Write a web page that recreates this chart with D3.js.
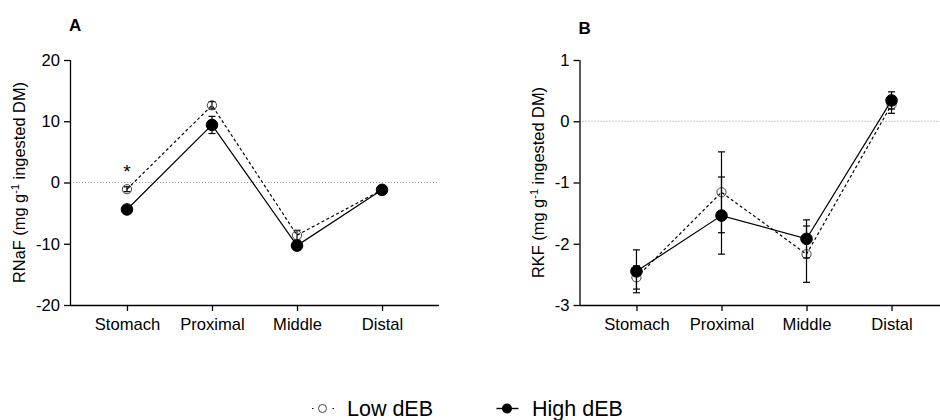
<!DOCTYPE html>
<html>
<head>
<meta charset="utf-8">
<script src="https://cdn.jsdelivr.net/npm/d3@7"></script>
<style>
  body { margin: 0; background: #fff; }
  text { font-family: Arial, "Liberation Sans", sans-serif; fill: #000; }
</style>
</head>
<body>
<div id="chart-area"></div>
<script>
// data (mean and SE per segment)
let categories = ["Stomach", "Proximal", "Middle", "Distal"];

let rnafLow = [-1.1, 12.6, -8.6, -1.2];
let rnafLowSE = [0.4, 0.6, 0.8, 0.3];
let rnafHigh = [-4.4, 9.4, -10.3, -1.2];
let rnafHighSE = [0.5, 1.4, 0.7, 0.3];

let rkfLow = [-2.55, -1.16, -2.17, 0.27];
let rkfLowSE = [0.19, 0.66, 0.46, 0.14];
let rkfHigh = [-2.45, -1.54, -1.92, 0.34];
let rkfHighSE = [0.35, 0.63, 0.31, 0.14];

let rnafTicks = [-20, -10, 0, 10, 20];
let rkfTicks = [-3, -2, -1, 0, 1];

let seriesNames = ["Low dEB", "High dEB"];

let width = 940,
  height = 420;

let svg = d3
  .select("#chart-area")
  .append("svg")
  .attr("width", width)
  .attr("height", height);

// one panel = one little line chart with error bars
function renderPanel(opts) {
  let x = d3
    .scalePoint()
    .domain(categories)
    .range([opts.left, opts.left + 369])
    .padding(0.67);

  let y = d3.scaleLinear().domain(opts.domain).range([305, 60]);

  let g = svg.append("g");

  // zero reference line
  g.append("line")
    .attr("x1", opts.left)
    .attr("x2", opts.left + 369)
    .attr("y1", y(0))
    .attr("y2", y(0))
    .attr("stroke", "#9a9a9a")
    .attr("stroke-width", 1)
    .attr("stroke-dasharray", "1,2");

  // ---- AXES ----
  let yAxis = d3
    .axisLeft(y)
    .tickValues(opts.ticks)
    .tickFormat((d) => String(d))
    .tickSize(6)
    .tickPadding(4);

  let yAxisGroup = g
    .append("g")
    .attr("transform", "translate(" + opts.left + ",0)")
    .call(yAxis);

  let xAxis = d3.axisBottom(x).tickSize(6).tickPadding(7);

  let xAxisGroup = g
    .append("g")
    .attr("transform", "translate(0,305)")
    .call(xAxis);

  [yAxisGroup, xAxisGroup].forEach((ax) => {
    ax.selectAll("path,line").attr("stroke", "#000").attr("stroke-width", 1.3);
    ax.selectAll("text").style("font-size", "16.6px").attr("fill", "#000");
  });
  xAxisGroup.select(".domain").attr("d", "M" + opts.left + ",0.5H" + (opts.left + 369));
  yAxisGroup.select(".domain").attr("d", "M0.5,305V60");

  // y axis title with superscript
  let title = g
    .append("text")
    .attr("transform", "translate(" + opts.labelX + "," + (305 + 60) / 2 + ") rotate(-90)")
    .attr("text-anchor", "middle")
    .style("font-size", "16.4px");
  title.append("tspan").text(opts.label + " (mg g");
  title.append("tspan").attr("dy", -6).style("font-size", "11px").text("-1");
  title.append("tspan").attr("dy", 6).text(" ingested DM)");

  // panel letter
  g.append("text")
    .attr("x", opts.left - 1)
    .attr("y", opts.letterY)
    .style("font-size", "17px")
    .style("font-weight", "bold")
    .text(opts.letter);

  let line = d3
    .line()
    .x((d, i) => x(categories[i]))
    .y((d) => y(d));

  // ---- SERIES: low first, high drawn on top ----
  let series = [
    { values: opts.low, se: opts.lowSE, dash: "3,2.5", filled: false },
    { values: opts.high, se: opts.highSE, dash: null, filled: true },
  ];

  series.forEach((s) => {
    g.append("path")
      .datum(s.values)
      .attr("d", line)
      .attr("fill", "none")
      .attr("stroke", "#000")
      .attr("stroke-width", 1.2)
      .attr("stroke-dasharray", s.dash);

    let err = g
      .selectAll(null)
      .data(s.values)
      .enter()
      .append("g")
      .attr("stroke", "#000")
      .attr("stroke-width", 1.2);
    err
      .append("line")
      .attr("x1", (d, i) => x(categories[i]))
      .attr("x2", (d, i) => x(categories[i]))
      .attr("y1", (d, i) => y(d + s.se[i]))
      .attr("y2", (d, i) => y(d - s.se[i]));
    err
      .append("line")
      .attr("x1", (d, i) => x(categories[i]) - 3.5)
      .attr("x2", (d, i) => x(categories[i]) + 3.5)
      .attr("y1", (d, i) => y(d + s.se[i]))
      .attr("y2", (d, i) => y(d + s.se[i]));
    err
      .append("line")
      .attr("x1", (d, i) => x(categories[i]) - 3.5)
      .attr("x2", (d, i) => x(categories[i]) + 3.5)
      .attr("y1", (d, i) => y(d - s.se[i]))
      .attr("y2", (d, i) => y(d - s.se[i]));

    g.selectAll(null)
      .data(s.values)
      .enter()
      .append("circle")
      .attr("cx", (d, i) => x(categories[i]))
      .attr("cy", (d) => y(d))
      .attr("r", s.filled ? 5.8 : 4.6)
      .attr("fill", s.filled ? "#000" : "none")
      .attr("stroke", s.filled ? "#000" : "#444")
      .attr("stroke-width", 1);
  });

  return { x: x, y: y, g: g };
}

let panelA = renderPanel({
  left: 70,
  domain: [-20, 20],
  ticks: rnafTicks,
  label: "RNaF",
  labelX: 24.5,
  letter: "A",
  letterY: 30.5,
  low: rnafLow,
  lowSE: rnafLowSE,
  high: rnafHigh,
  highSE: rnafHighSE,
});

let panelB = renderPanel({
  left: 579.5,
  domain: [-3, 1],
  ticks: rkfTicks,
  label: "RKF",
  labelX: 544,
  letter: "B",
  letterY: 33.5,
  low: rkfLow,
  lowSE: rkfLowSE,
  high: rkfHigh,
  highSE: rkfHighSE,
});

// significance star over stomach in panel A
panelA.g
  .append("text")
  .attr("x", panelA.x("Stomach"))
  .attr("y", 178)
  .attr("text-anchor", "middle")
  .style("font-size", "19px")
  .text("*");

// ---- LEGEND ----
let legend = svg.append("g");

legend
  .append("line")
  .attr("x1", 312)
  .attr("x2", 334)
  .attr("y1", 408.5)
  .attr("y2", 408.5)
  .attr("stroke", "#000")
  .attr("stroke-width", 1.2)
  .attr("stroke-dasharray", "1.5,19")
  .attr("stroke-dashoffset", 0);
legend
  .append("circle")
  .attr("cx", 322.5)
  .attr("cy", 408.5)
  .attr("r", 4)
  .attr("fill", "none")
  .attr("stroke", "#444");
legend
  .append("text")
  .attr("x", 347)
  .attr("y", 415.7)
  .style("font-size", "21.5px")
  .text(seriesNames[0]);

legend
  .append("line")
  .attr("x1", 496.5)
  .attr("x2", 518.5)
  .attr("y1", 408.5)
  .attr("y2", 408.5)
  .attr("stroke", "#000")
  .attr("stroke-width", 1.4);
legend
  .append("circle")
  .attr("cx", 507)
  .attr("cy", 408.5)
  .attr("r", 5)
  .attr("fill", "#000");
legend
  .append("text")
  .attr("x", 532)
  .attr("y", 415.7)
  .style("font-size", "21.5px")
  .text(seriesNames[1]);
</script>
</body>
</html>
